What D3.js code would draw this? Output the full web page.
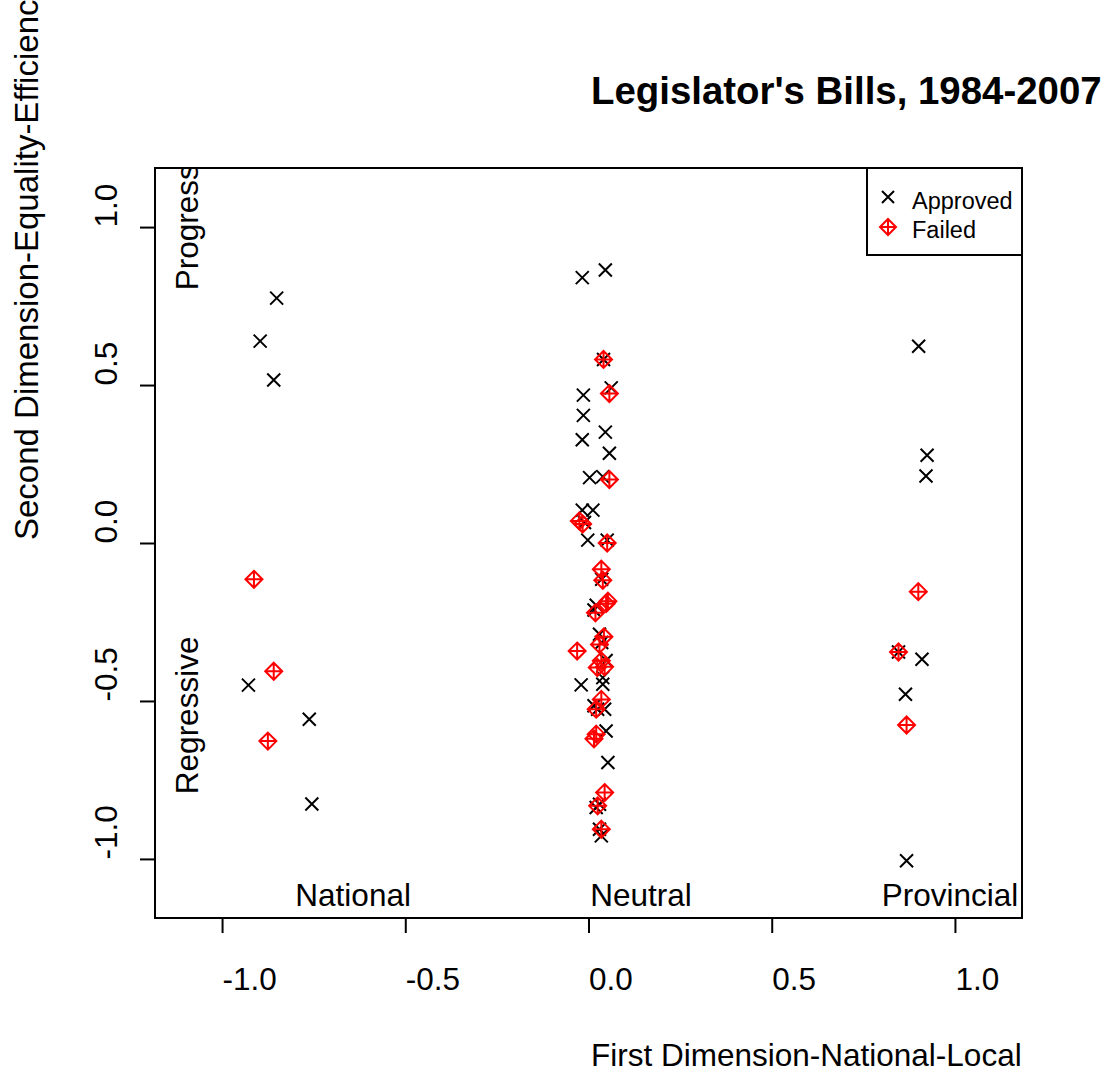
<!DOCTYPE html>
<html>
<head>
<meta charset="utf-8">
<script src="https://cdn.jsdelivr.net/npm/d3@7"></script>
<style>
  html, body { margin: 0; padding: 0; background: #fff; }
  text { font-family: "Liberation Sans", Arial, sans-serif; fill: #000; }
</style>
</head>
<body>
<svg id="chart" width="1110" height="1073"></svg>
<script>
// ---- data ----
const approvedX = [
  -0.851, -0.896, -0.859, -0.928, -0.762, -0.755,
  0.901, 0.924, 0.921, 0.910, 0.865, 0.868, 0.846,
  -0.017, 0.046, 0.041, 0.062, -0.014, -0.014, 0.046, -0.017, 0.057, 0.003, 0.039,
  -0.017, 0.012, -0.011, -0.002, 0.051, 0.036, 0.021, 0.015, 0.030, 0.036, 0.048,
  0.039, 0.039, -0.020, 0.025, 0.044, 0.015, 0.048, 0.053, 0.030, 0.021, 0.030, 0.035
];
const approvedY = [
  0.775, 0.639, 0.516, -0.450, -0.558, -0.826,
  0.623, 0.278, 0.212, -0.368, -0.479, -1.006, -0.345,
  0.840, 0.864, 0.581, 0.491, 0.468, 0.404, 0.351, 0.327, 0.284, 0.207, 0.210,
  0.104, 0.104, 0.065, 0.009, 0.009, -0.115, -0.197, -0.212, -0.289, -0.315, -0.372,
  -0.426, -0.447, -0.449, -0.526, -0.526, -0.515, -0.595, -0.695, -0.827, -0.837, -0.906, -0.927
];
const failedX = [
  -0.913, -0.859, -0.875,
  0.900, 0.846, 0.868,
  0.041, 0.057, 0.057, -0.025, -0.016, 0.051, 0.035, 0.039, 0.053, 0.048, 0.019,
  0.042, 0.030, -0.031, 0.035, 0.044, 0.024, 0.035, 0.021, 0.021, 0.015, 0.044, 0.025, 0.035
];
const failedY = [
  -0.115, -0.406, -0.627,
  -0.154, -0.345, -0.576,
  0.581, 0.473, 0.201, 0.070, 0.060, 0.000, -0.083, -0.118, -0.184, -0.192, -0.221,
  -0.297, -0.321, -0.342, -0.373, -0.392, -0.394, -0.495, -0.526, -0.605, -0.620, -0.790, -0.832, -0.906
];
const xTicks = [-1.0, -0.5, 0.0, 0.5, 1.0];
const yTicks = [-1.0, -0.5, 0.0, 0.5, 1.0];
const tickLabels = ["-1.0", "-0.5", "0.0", "0.5", "1.0"];
const regionLabels = [
  {text: "National", x: -0.8, y: -1.149},
  {text: "Neutral", x: 0.005, y: -1.149},
  {text: "Provincial", x: 0.8, y: -1.149}
];
const sideLabels = [
  {text: "Progress", x: -1.067, y: 0.80},
  {text: "Regressive", x: -1.067, y: -0.795}
];
const legendItems = ["Approved", "Failed"];
const title = "Legislator's Bills, 1984-2007";
const xTitle = "First Dimension-National-Local";
const yTitle = "Second Dimension-Equality-Efficiency";

// ---- layout ----
const FS = 31.5;
const box = {left: 155, top: 168, right: 1022, bottom: 918};
const x = d3.scaleLinear().domain([-1.183, 1.183]).range([box.left, box.right]);
const y = d3.scaleLinear().domain([-1.187, 1.187]).range([box.bottom, box.top]);

const svg = d3.select("#chart");

svg.append("defs").append("clipPath").attr("id", "plotclip")
  .append("rect").attr("x", box.left).attr("y", box.top)
  .attr("width", box.right - box.left).attr("height", box.bottom - box.top);

// plot box
svg.append("rect").attr("x", box.left).attr("y", box.top)
  .attr("width", box.right - box.left).attr("height", box.bottom - box.top)
  .attr("fill", "none").attr("stroke", "#000").attr("stroke-width", 2);

// x axis
const xAxis = d3.axisBottom(x).tickValues(xTicks).tickSize(15).tickFormat(() => "");
const gx = svg.append("g").attr("transform", `translate(0,${box.bottom})`).call(xAxis);
gx.select(".domain").attr("d", `M${x(-1)},0H${x(1)}`).attr("stroke-width", 2);
gx.selectAll(".tick line").attr("stroke-width", 2);
gx.selectAll(".tick").append("text")
  .attr("x", 0).attr("y", 72)
  .attr("text-anchor", "start")
  .attr("font-size", FS)
  .text((d, i) => tickLabels[i]);

// y axis
const yAxis = d3.axisLeft(y).tickValues(yTicks).tickSize(15).tickFormat(() => "");
const gy = svg.append("g").attr("transform", `translate(${box.left},0)`).call(yAxis);
gy.select(".domain").attr("d", `M0,${y(-1)}V${y(1)}`).attr("stroke-width", 2);
gy.selectAll(".tick line").attr("stroke-width", 2);
gy.selectAll(".tick").append("text")
  .attr("transform", "translate(-38,0) rotate(-90)")
  .attr("x", 0).attr("y", 0)
  .attr("text-anchor", "start")
  .attr("font-size", FS)
  .text((d, i) => tickLabels[i]);

// titles
svg.append("text").attr("x", 591).attr("y", 104)
  .attr("font-size", 38.4).attr("font-weight", "bold")
  .text(title);
svg.append("text").attr("x", 591).attr("y", 1066)
  .attr("font-size", FS)
  .text(xTitle);
svg.append("text").attr("transform", "translate(38,540) rotate(-90)")
  .attr("font-size", 33)
  .text(yTitle);

// region labels
const plotG = svg.append("g").attr("clip-path", "url(#plotclip)");
plotG.selectAll("text.region").data(regionLabels).enter().append("text")
  .attr("class", "region")
  .attr("x", d => x(d.x)).attr("y", d => y(d.y))
  .attr("font-size", FS)
  .text(d => d.text);
plotG.selectAll("text.side").data(sideLabels).enter().append("text")
  .attr("class", "side")
  .attr("transform", d => `translate(${x(d.x)},${y(d.y)}) rotate(-90)`)
  .attr("font-size", FS)
  .text(d => d.text);

// markers
function crossPath(s) {
  return `M${-s},${-s}L${s},${s}M${-s},${s}L${s},${-s}`;
}
function diamondPlusPath(s) {
  return `M0,${-s}L${s},0L0,${s}L${-s},0Z M0,${-s}V${s} M${-s},0H${s}`;
}
const approved = approvedX.map((v, i) => ({x: v, y: approvedY[i]}));
const failed = failedX.map((v, i) => ({x: v, y: failedY[i]}));

plotG.selectAll("path.approved").data(approved).enter().append("path")
  .attr("class", "approved")
  .attr("transform", d => `translate(${x(d.x)},${y(d.y)})`)
  .attr("d", crossPath(6.5))
  .attr("fill", "none").attr("stroke", "#000").attr("stroke-width", 2);

plotG.selectAll("path.failed").data(failed).enter().append("path")
  .attr("class", "failed")
  .attr("transform", d => `translate(${x(d.x)},${y(d.y)})`)
  .attr("d", diamondPlusPath(8.5))
  .attr("fill", "none").attr("stroke", "#ff0000").attr("stroke-width", 2);

// legend
const lg = svg.append("g");
lg.append("rect").attr("x", 867).attr("y", box.top)
  .attr("width", box.right - 867).attr("height", 255 - box.top)
  .attr("fill", "#fff").attr("stroke", "#000").attr("stroke-width", 2);
lg.append("path").attr("transform", "translate(888,197)").attr("d", crossPath(6))
  .attr("fill", "none").attr("stroke", "#000").attr("stroke-width", 2);
lg.append("path").attr("transform", "translate(888,227)").attr("d", diamondPlusPath(8))
  .attr("fill", "none").attr("stroke", "#ff0000").attr("stroke-width", 2);
lg.selectAll("text").data(legendItems).enter().append("text")
  .attr("x", 912).attr("y", (d, i) => 209 + i * 29)
  .attr("font-size", 23.5)
  .text(d => d);
</script>
</body>
</html>
